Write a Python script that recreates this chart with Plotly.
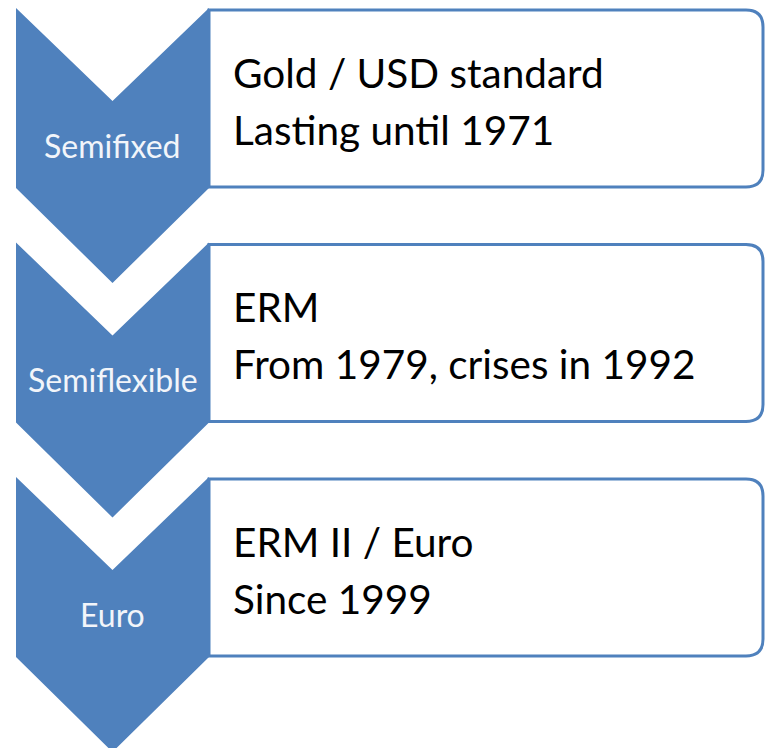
import plotly.graph_objects as go

# ---- data ----
stages = ["Semifixed", "Semiflexible", "Euro"]
line1 = ["Gold / USD standard", "ERM", "ERM II / Euro"]
line2 = ["Lasting until 1971", "From 1979, crises in 1992", "Since 1999"]

W, H = 765, 748
BLUE = "#4F81BD"
FONT = "Lato"

# layout geometry (pixels, y downward)
top0 = 8
period = 234.5
cx_left, cx_mid, cx_right = 16, 112.5, 209
notch = 93
side = 180
tip = 275
box_x1 = 763
rad = 17

shapes = []
annotations = []

for i, st in enumerate(stages):
    y0 = top0 + period * i
    # box with rounded right corners
    bt, bb = y0 + 2, y0 + 179
    path = (f"M {cx_right},{bt} L {box_x1 - rad},{bt} Q {box_x1},{bt} {box_x1},{bt + rad} "
            f"L {box_x1},{bb - rad} Q {box_x1},{bb} {box_x1 - rad},{bb} L {cx_right},{bb} Z")
    shapes.append(dict(type="path", path=path, xref="x", yref="y",
                       fillcolor="white", line=dict(color=BLUE, width=3), layer="above"))
for i, st in enumerate(stages):
    y0 = top0 + period * i
    path = (f"M {cx_left},{y0} L {cx_mid},{y0 + notch} L {cx_right},{y0} "
            f"L {cx_right},{y0 + side} L {cx_mid},{y0 + tip} L {cx_left},{y0 + side} Z")
    shapes.append(dict(type="path", path=path, xref="x", yref="y",
                       fillcolor=BLUE, line=dict(color=BLUE, width=0), layer="above"))

for i, st in enumerate(stages):
    y0 = top0 + period * i
    annotations.append(dict(x=cx_mid, y=y0 + 137, text=st, showarrow=False,
                            xref="x", yref="y", xanchor="center", yanchor="middle",
                            font=dict(family=FONT, size=32, color="#F2F5FA")))
    annotations.append(dict(x=231, y=y0 + 64, text=line1[i], showarrow=False,
                            xref="x", yref="y", xanchor="left", yanchor="middle",
                            font=dict(family=FONT, size=40.5, color="black")))
    annotations.append(dict(x=231, y=y0 + 121, text=line2[i], showarrow=False,
                            xref="x", yref="y", xanchor="left", yanchor="middle",
                            font=dict(family=FONT, size=40.5, color="black")))

fig = go.Figure()
fig.update_layout(
    width=W, height=H, margin=dict(l=0, r=0, t=0, b=0),
    paper_bgcolor="white", plot_bgcolor="white",
    xaxis=dict(range=[0, W], visible=False, fixedrange=True),
    yaxis=dict(range=[H, 0], visible=False, fixedrange=True),
    shapes=shapes, annotations=annotations, showlegend=False,
)
fig.write_html("out.html", config={"displayModeBar": False},
               post_script="document.body.style.margin='0';")
